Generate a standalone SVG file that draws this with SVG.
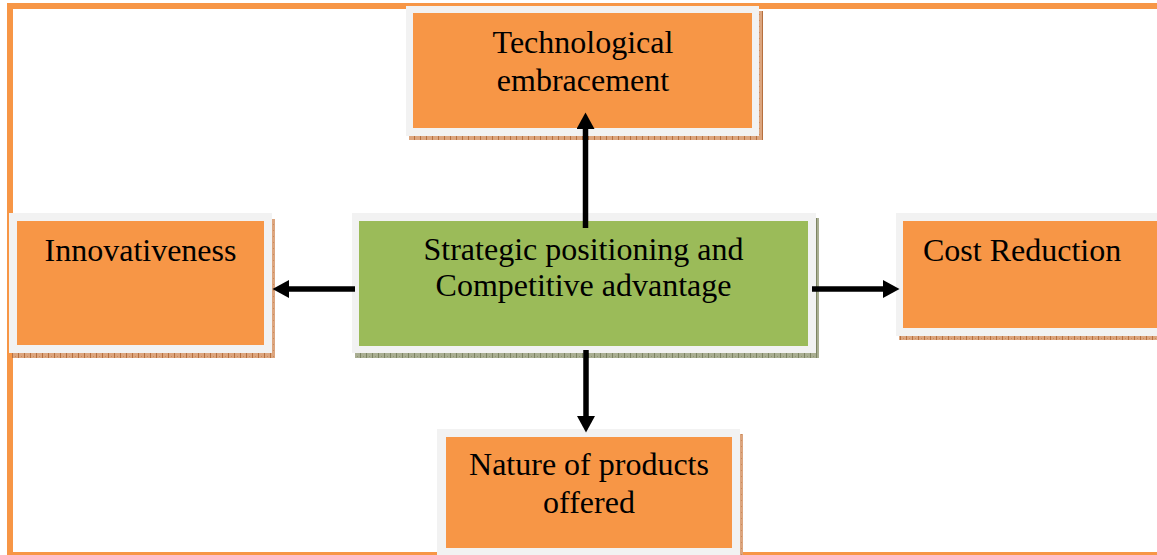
<svg xmlns="http://www.w3.org/2000/svg" width="1157" height="555" viewBox="0 0 1157 555">
  <defs>
    <style>
      .frame { fill: none; stroke: #f79646; stroke-width: 6; }
      .rim { fill: #f2f2f2; }
      .orange { fill: #f79646; }
      .green { fill: #9bbb59; }
      .shadow-o { fill: url(#hatchOrange); }
      .shadow-g { fill: url(#hatchGreen); }
      .label { font-family: "Liberation Serif", "Times New Roman", serif; font-size: 32px; fill: #000; }
      .mid { text-anchor: middle; }
      .link { stroke: #000; stroke-width: 5.5; fill: none; marker-end: url(#head); }
    </style>
    <pattern id="hatchOrange" width="6" height="6" patternUnits="userSpaceOnUse">
      <rect width="6" height="6" fill="#dca57e"/>
      <rect x="0" y="0" width="1" height="6" fill="#b6703f"/>
      <rect x="3" y="2" width="1" height="1" fill="#c98a5c"/>
    </pattern>
    <pattern id="hatchGreen" width="6" height="6" patternUnits="userSpaceOnUse">
      <rect width="6" height="6" fill="#a9ae92"/>
      <rect x="0" y="0" width="1" height="6" fill="#7d8463"/>
      <rect x="3" y="2" width="1" height="1" fill="#8f9673"/>
    </pattern>
    <marker id="head" markerUnits="userSpaceOnUse" markerWidth="17" markerHeight="18" refX="0" refY="9" orient="auto">
      <path d="M0,0 L16.5,9 L0,18 z" fill="#000"/>
    </marker>
  </defs>

  <!-- outer page frame -->
  <rect class="frame" x="10" y="6" width="1160" height="549"/>

  <g id="node-technological">
    <rect class="shadow-o" x="409" y="11" width="354" height="129"/>
    <rect class="rim" x="406" y="6" width="353" height="130"/>
    <rect class="orange" x="413" y="13" width="339" height="115"/>
    <text class="label mid" x="583" y="53">Technological</text>
    <text class="label mid" x="583" y="91">embracement</text>
  </g>

  <g id="node-innovativeness">
    <rect class="shadow-o" x="12" y="219" width="263" height="139"/>
    <rect class="rim" x="9" y="213" width="263" height="140"/>
    <rect class="orange" x="17" y="221" width="247" height="124"/>
    <text class="label mid" x="140.5" y="261">Innovativeness</text>
  </g>

  <g id="node-strategic">
    <rect class="shadow-g" x="355" y="218" width="464" height="140"/>
    <rect class="rim" x="352" y="213" width="464" height="140"/>
    <rect class="green" x="359" y="221" width="449" height="125"/>
    <text class="label mid" x="583.5" y="260">Strategic positioning and</text>
    <text class="label mid" x="583.5" y="296">Competitive advantage</text>
  </g>

  <g id="node-cost">
    <rect class="shadow-o" x="899" y="218" width="280" height="122"/>
    <rect class="rim" x="896" y="213" width="280" height="123"/>
    <rect class="orange" x="903" y="221" width="270" height="107"/>
    <text class="label" x="923" y="261">Cost Reduction</text>
  </g>

  <g id="node-products">
    <rect class="shadow-o" x="440" y="434" width="303" height="130"/>
    <rect class="rim" x="437" y="429" width="303" height="130"/>
    <rect class="orange" x="446" y="437" width="286" height="111"/>
    <text class="label mid" x="589" y="475">Nature of products</text>
    <text class="label mid" x="589" y="513">offered</text>
  </g>

  <g id="connectors">
    <line class="link" x1="585.5" y1="228" x2="585.5" y2="129"/>
    <line class="link" x1="355" y1="289" x2="289" y2="289"/>
    <line class="link" x1="812" y1="289" x2="883" y2="289"/>
    <line class="link" x1="586" y1="350" x2="586" y2="416"/>
  </g>
</svg>
